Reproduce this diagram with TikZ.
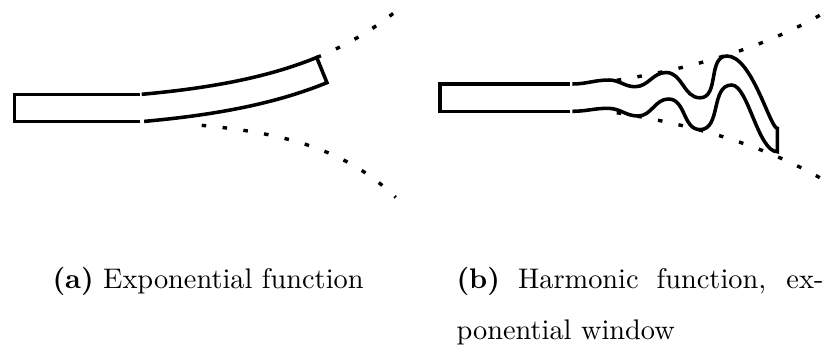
\documentclass[tikz,border=0pt]{standalone}
\usetikzlibrary{positioning}

\tikzset{
  bar/.style={line width=1.25pt},
  envelope/.style={line width=1.2pt, dash pattern=on 1.6pt off 5.8pt},
  sublabel/.style={inner sep=0pt, font=\fontsize{10}{18}\selectfont}
}

\begin{document}
\begin{tikzpicture}[x=0.3527pt, y=-0.3527pt,
    declare function={fa(\t)=10.5*(exp(0.0086*\t)-1);
                      fpa(\t)=0.0903*exp(0.0086*\t);
                      fla(\t)=3.58*(exp(0.0122*\t)-1);
                      fb(\t)=16.2+25.8*(exp(0.0062*\t)-1);}]
  \useasboundingbox (0,0) rectangle (829,351);

  % (a) exponential bend
  \draw[bar] (140,94.3) -- (14.5,94.3) -- (14.5,121.5) -- (140,121.5);
  \draw[bar] plot[domain=0:175, samples=60, variable=\t]
      ({141.7+\t}, {94.3-fa(\t)})
    -- plot[domain=175:0, samples=60, variable=\t]
      ({141.7+\t+27.2*fpa(\t)/sqrt(1+fpa(\t)^2)}, {94.3-fa(\t)+27.2/sqrt(1+fpa(\t)^2)});
  \draw[envelope] plot[domain=175:256, samples=40, variable=\t]
      ({141.7+\t}, {94.3-fa(\t)});
  \draw[envelope] plot[domain=60:254, samples=60, variable=\t]
      ({141.7+\t}, {121.5+fla(\t)});

  % (b) harmonic with exponential window
  \draw[bar] (570,84) -- (440,84) -- (440,111.3) -- (570,111.3);
  \draw[bar] (572.3,84) to[out=0,in=180] (609,80) to[out=0,in=180] (635,86.7)
    to[out=0,in=180] (666,72.5) to[out=0,in=180] (700,97.8)
    to[out=0,in=180] (727,56) .. controls (752,56) and (770,128.3) .. (777.3,128.3)
    -- (777.3,151.7) .. controls (758,151.7) and (748,85) .. (731.7,85)
    to[out=180,in=0] (700,129.6) to[out=180,in=0] (668.5,99)
    to[out=180,in=0] (638,116) to[out=180,in=0] (608,108.3)
    to[out=180,in=0] (572.3,111.3);
  \draw[envelope] plot[domain=0:208, samples=60, variable=\t]
      ({616.7+\t}, {96.5-fb(\t)});
  \draw[envelope] plot[domain=0:208, samples=60, variable=\t]
      ({616.7+\t}, {96.5+fb(\t)});

  % captions
  \node[sublabel, anchor=base west] (capA) at (52,288)
    {\textbf{(a)} Exponential function};
  \node[sublabel, anchor=base west, text width=129.4pt, align=justify] (capB) at (456,288)
    {\textbf{(b)} Harmonic function, ex-\linebreak ponential window};
\end{tikzpicture}
\end{document}
